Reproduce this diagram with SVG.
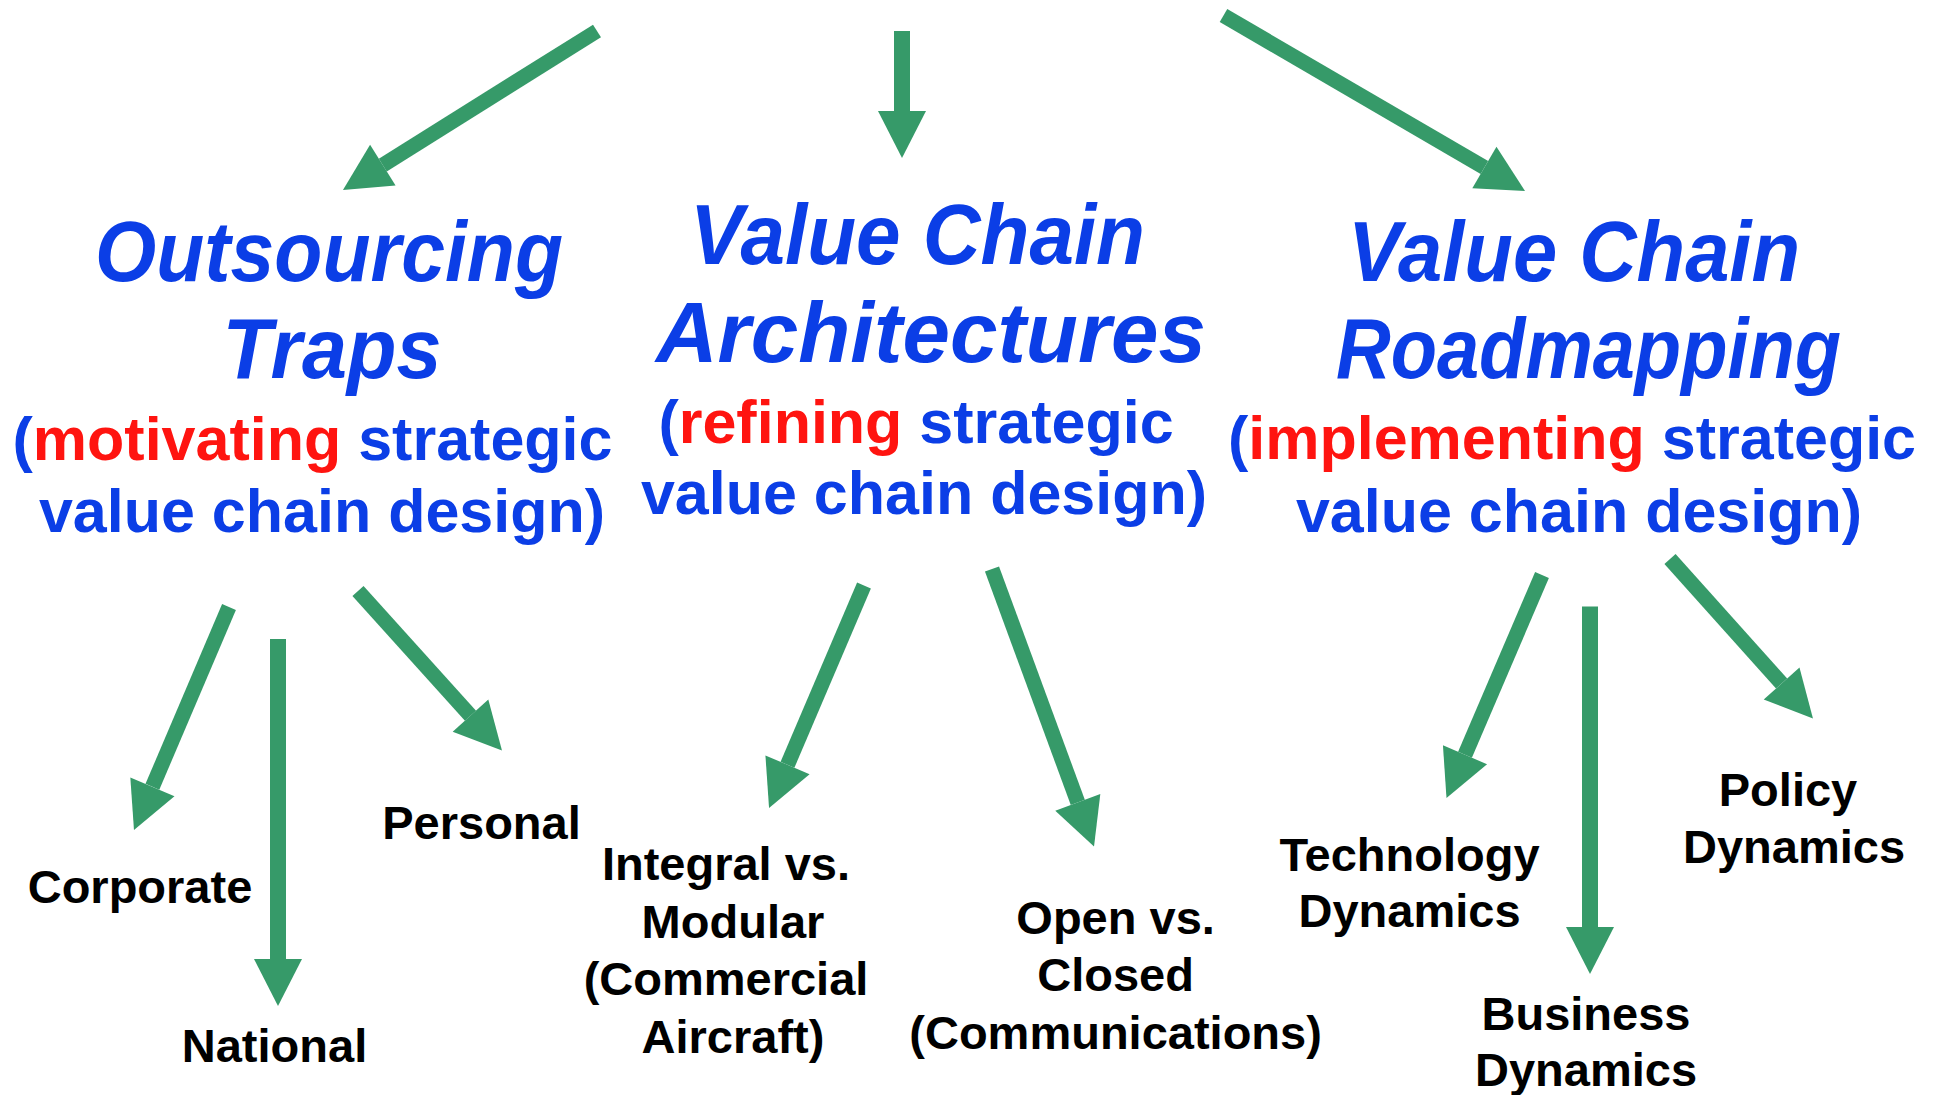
<svg xmlns="http://www.w3.org/2000/svg" width="1942" height="1095" viewBox="0 0 1942 1095">
<style>
.title{font-family:"Liberation Sans",Arial,sans-serif;font-style:italic;font-weight:bold;font-size:85px;fill:#0b3ee6;text-anchor:middle}
.sub{font-family:"Liberation Sans",Arial,sans-serif;font-weight:bold;font-size:61px;fill:#0b3ee6;text-anchor:middle}
.red{fill:#ff1410}
.lbl{font-family:"Liberation Sans",Arial,sans-serif;font-weight:bold;font-size:47px;fill:#000;text-anchor:middle}
.arr{stroke:#369a69;stroke-width:15;fill:none;stroke-linecap:butt;marker-end:url(#head)}
</style>
<defs>
<marker id="head" markerUnits="userSpaceOnUse" markerWidth="47" markerHeight="48" refX="0" refY="24" orient="auto" overflow="visible">
<path d="M0,0 L47,24 L0,48 Z" fill="#369a69"/>
</marker>
</defs>
<rect width="1942" height="1095" fill="#fff"/>
<g id="connectors">
<line class="arr" x1="597" y1="31" x2="382.8" y2="165.1"/>
<line class="arr" x1="902" y1="31" x2="902" y2="111" style="stroke-width:16"/>
<line class="arr" x1="1223.5" y1="15.5" x2="1484.4" y2="167.4"/>
<line class="arr" x1="229" y1="607" x2="152.4" y2="786.8"/>
<line class="arr" x1="278" y1="639" x2="278" y2="959" style="stroke-width:16"/>
<line class="arr" x1="358" y1="591" x2="470.5" y2="715.7"/>
<line class="arr" x1="864" y1="585.5" x2="787.5" y2="764.8"/>
<line class="arr" x1="992" y1="569" x2="1077.8" y2="802.4"/>
<line class="arr" x1="1542" y1="575" x2="1465" y2="754.8"/>
<line class="arr" x1="1590" y1="606.5" x2="1590" y2="927" style="stroke-width:16"/>
<line class="arr" x1="1670" y1="559" x2="1781.6" y2="683.5"/>
</g>
<g id="outsourcing-traps">
<text class="title" x="329" y="281" textLength="468" lengthAdjust="spacingAndGlyphs">Outsourcing</text>
<text class="title" x="332" y="378" textLength="219" lengthAdjust="spacingAndGlyphs">Traps</text>
<text class="sub" x="312.5" y="460">(<tspan class="red">motivating</tspan> strategic</text>
<text class="sub" x="322" y="532">value chain design)</text>
</g>
<g id="value-chain-architectures">
<text class="title" x="917.5" y="264" textLength="455" lengthAdjust="spacingAndGlyphs">Value Chain</text>
<text class="title" x="931" y="362" textLength="550" lengthAdjust="spacingAndGlyphs">Architectures</text>
<text class="sub" x="916" y="443">(<tspan class="red">refining</tspan> strategic</text>
<text class="sub" x="924" y="514">value chain design)</text>
</g>
<g id="value-chain-roadmapping">
<text class="title" x="1574" y="281" textLength="452" lengthAdjust="spacingAndGlyphs">Value Chain</text>
<text class="title" x="1588.5" y="378" textLength="505" lengthAdjust="spacingAndGlyphs">Roadmapping</text>
<text class="sub" x="1572" y="459">(<tspan class="red">implementing</tspan> strategic</text>
<text class="sub" x="1579" y="532">value chain design)</text>
</g>
<g id="corporate"><text class="lbl" x="140" y="903">Corporate</text></g>
<g id="national"><text class="lbl" x="274.5" y="1062">National</text></g>
<g id="personal"><text class="lbl" x="481.5" y="839">Personal</text></g>
<g id="integral-modular">
<text class="lbl" x="726" y="880">Integral vs.</text>
<text class="lbl" x="733" y="938">Modular</text>
<text class="lbl" x="726" y="995">(Commercial</text>
<text class="lbl" x="733" y="1052.5">Aircraft)</text>
</g>
<g id="open-closed">
<text class="lbl" x="1115.6" y="934">Open vs.</text>
<text class="lbl" x="1115.6" y="991">Closed</text>
<text class="lbl" x="1115.6" y="1049">(Communications)</text>
</g>
<g id="technology-dynamics">
<text class="lbl" x="1409.5" y="871">Technology</text>
<text class="lbl" x="1409.5" y="927">Dynamics</text>
</g>
<g id="business-dynamics">
<text class="lbl" x="1586" y="1030">Business</text>
<text class="lbl" x="1586" y="1086">Dynamics</text>
</g>
<g id="policy-dynamics">
<text class="lbl" x="1788" y="806">Policy</text>
<text class="lbl" x="1794" y="863">Dynamics</text>
</g>
</svg>
